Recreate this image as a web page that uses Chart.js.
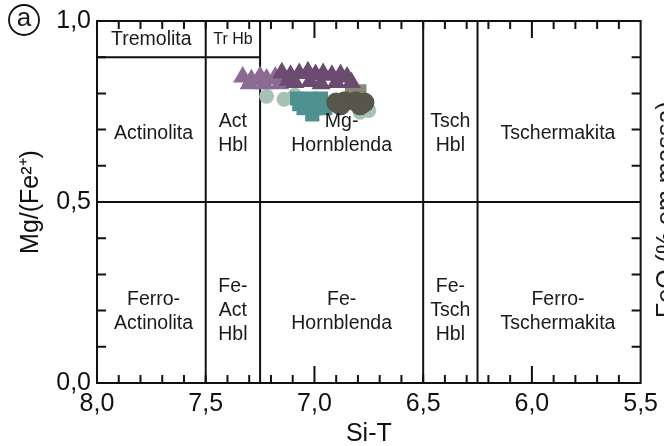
<!DOCTYPE html>
<html>
<head>
<meta charset="utf-8">
<script src="https://cdn.jsdelivr.net/npm/chart.js@4.4.0/dist/chart.umd.min.js"></script>
<style>
  html, body { margin: 0; padding: 0; background: #fff; }
  #wrap { width: 664px; height: 446px; position: relative; }
</style>
</head>
<body>
<div id="wrap"><canvas id="chart"></canvas></div>
<script>
// Si-T x Mg/(Fe2+) classification diagram for amphiboles

const siTicks = [8.0, 7.5, 7.0, 6.5, 6.0, 5.5];
const mgTicks = [0.0, 0.5, 1.0];

// field boundaries
const siBounds = [7.5, 7.25, 6.5, 6.25];
const mgBound = 0.5;
const tremBound = 0.9;

// field names and where they sit
const fieldNames = ["Tremolita", "Tr Hb", "Actinolita", "Act\nHbl", "Mg-\nHornblenda", "Tsch\nHbl", "Tschermakita",
  "Ferro-\nActinolita", "Fe-\nAct\nHbl", "Fe-\nHornblenda", "Fe-\nTsch\nHbl", "Ferro-\nTschermakita"];
const fieldSi = [7.75, 7.375, 7.74, 7.375, 6.875, 6.375, 5.88, 7.74, 7.375, 6.875, 6.375, 5.88];
const fieldMg = [0.948, 0.948, 0.69, 0.69, 0.69, 0.69, 0.69, 0.197, 0.2, 0.197, 0.2, 0.197];

// samples
const lilacSi = [7.33, 7.29, 7.25, 7.22, 7.18, 7.14, 7.30, 7.23, 7.16];
const lilacMg = [0.845, 0.838, 0.847, 0.840, 0.845, 0.836, 0.827, 0.827, 0.827];

const plumSi = [7.15, 7.11, 7.07, 7.03, 6.995, 6.96, 6.92, 6.88, 6.85, 7.12, 7.09, 7.02, 6.97, 6.90, 6.83];
const plumMg = [0.857, 0.850, 0.855, 0.860, 0.852, 0.855, 0.850, 0.852, 0.845, 0.836, 0.830, 0.833, 0.827, 0.830, 0.830];

const mintSi = [7.22, 7.14, 7.09, 6.79, 6.75];
const mintMg = [0.792, 0.784, 0.795, 0.748, 0.753];

const tealSi = [7.08, 7.02, 6.97, 7.07, 7.05, 6.995, 6.95, 7.01];
const tealMg = [0.786, 0.786, 0.786, 0.770, 0.759, 0.759, 0.759, 0.742];

const sageSi = [6.83, 6.79, 6.80];
const sageMg = [0.805, 0.808, 0.795];

const oliveSi = [6.90, 6.86, 6.81, 6.77, 6.88, 6.79];
const oliveMg = [0.775, 0.778, 0.778, 0.775, 0.767, 0.767];

const pts = (xs, ys) => xs.map((v, i) => ({x: v, y: ys[i]}));
const comma = v => v.toFixed(1).replace(".", ",");

const boundLines = [];
siBounds.forEach(s => boundLines.push([{x: s, y: 0}, {x: s, y: 1}]));
boundLines.push([{x: 8, y: mgBound}, {x: 5.5, y: mgBound}]);
boundLines.push([{x: 8, y: tremBound}, {x: 7.25, y: tremBound}]);

const markers = (data, color, style, r) => ({
  type: "scatter", data, backgroundColor: color, borderColor: color, borderWidth: 0,
  pointStyle: style, pointRadius: r, pointHoverRadius: r
});

// index 0 is drawn on top
const datasets = [
  markers(pts(oliveSi, oliveMg), "#57564a", "circle", 10),
  markers(pts(plumSi, plumMg), "#6b4b70", "triangle", 11),
  markers(pts(lilacSi, lilacMg), "#8b6b93", "triangle", 11),
  markers(pts(sageSi, sageMg), "#868a75", "rect", 9),
  markers(pts(tealSi, tealMg), "#4f9190", "rect", 10),
  markers(pts(mintSi, mintMg), "#a5c2b4", "circle", 7.5),
];
boundLines.forEach(l => datasets.push({
  type: "line", data: l, borderColor: "#111", borderWidth: 2, pointRadius: 0, clip: false
}));

const decor = {
  id: "decor",
  afterDatasetsDraw(chart) {
    const {ctx, chartArea: a, scales: {x, y}} = chart;
    ctx.save();
    ctx.strokeStyle = "#111";
    ctx.lineWidth = 2;
    ctx.strokeRect(a.left, a.top, a.right - a.left, a.bottom - a.top);
    ctx.beginPath();
    for (let i = 56; i < 80; i++) {
      const px = x.getPixelForValue(i / 10);
      const len = i % 10 === 0 ? 17 : 8;
      ctx.moveTo(px, a.bottom); ctx.lineTo(px, a.bottom - len);
      ctx.moveTo(px, a.top); ctx.lineTo(px, a.top + len);
    }
    for (let j = 1; j < 10; j++) {
      const py = y.getPixelForValue(j / 10);
      ctx.moveTo(a.left, py); ctx.lineTo(a.left + 9, py);
      ctx.moveTo(a.right, py); ctx.lineTo(a.right - 9, py);
    }
    ctx.stroke();

    // field names
    ctx.fillStyle = "#1a1a1a";
    ctx.textAlign = "center";
    ctx.textBaseline = "middle";
    fieldNames.forEach((name, k) => {
      const lines = name.split("\n");
      ctx.font = (name === "Tr Hb" ? 16 : 19.5) + "px 'Liberation Sans', Arial, sans-serif";
      const cx = x.getPixelForValue(fieldSi[k]);
      const cy = y.getPixelForValue(fieldMg[k]);
      const lh = 24;
      lines.forEach((t, n) => ctx.fillText(t, cx, cy + (n - (lines.length - 1) / 2) * lh));
    });

    // panel letter
    ctx.lineWidth = 1.8;
    ctx.beginPath();
    ctx.arc(24, 20, 15, 0, Math.PI * 2);
    ctx.stroke();
    ctx.font = "26px 'Liberation Sans', Arial, sans-serif";
    ctx.fillText("a", 24, 19);

    // axis title of the neighbouring panel, cut by the edge
    ctx.translate(674, 318);
    ctx.rotate(-Math.PI / 2);
    ctx.textAlign = "left";
    ctx.textBaseline = "alphabetic";
    ctx.font = "25px 'Liberation Sans', Arial, sans-serif";
    ctx.fillText("FeO (% em massa)", 0, 0);
    ctx.restore();
  }
};

const font = {family: "'Liberation Sans', Arial, sans-serif", size: 25};

new Chart(document.getElementById("chart"), {
  data: {datasets},
  options: {
    responsive: true,
    maintainAspectRatio: false,
    animation: false,
    events: [],
    layout: {padding: {left: 0, right: 23, top: 18, bottom: 0}},
    plugins: {legend: {display: false}, tooltip: {enabled: false}},
    scales: {
      x: {
        type: "linear", min: 5.5, max: 8.0, reverse: true,
        afterFit: s => { s.height = 63; },
        afterBuildTicks: s => { s.ticks = siTicks.map(v => ({value: v})); },
        ticks: {callback: comma, font, color: "#111", padding: 6, maxRotation: 0, autoSkip: false},
        grid: {display: false, drawTicks: false},
        border: {display: false},
        title: {display: true, text: "Si-T", font, color: "#111", padding: {top: 0, bottom: -3}}
      },
      y: {
        type: "linear", min: 0, max: 1,
        afterFit: s => { s.width = 97; },
        afterBuildTicks: s => { s.ticks = mgTicks.map(v => ({value: v})); },
        ticks: {callback: comma, font, color: "#111", padding: 6, autoSkip: false},
        grid: {display: false, drawTicks: false},
        border: {display: false},
        title: {display: true, text: "Mg/(Fe²⁺)", font, color: "#111", padding: {top: 16, bottom: 0}}
      }
    }
  },
  plugins: [decor]
});
</script>
</body>
</html>
